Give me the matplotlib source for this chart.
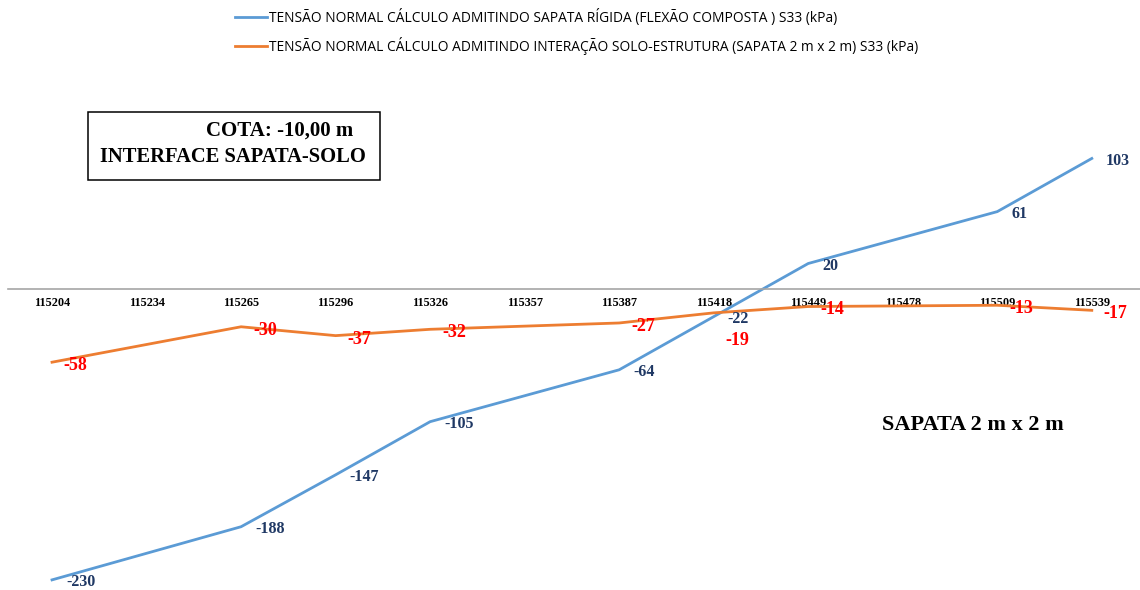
import numpy as np
import matplotlib.pyplot as plt
from matplotlib.patches import Rectangle

# ================================
# DATA
# ================================
categories = ['115204', '115234', '115265', '115296', '115326', '115357',
              '115387', '115418', '115449', '115478', '115509', '115539']
# positions (index into categories) that hold values
pos_idx = [0, 2, 3, 4, 6, 7, 8, 10, 11]
rigida = [-230, -188, -147, -105, -64, -22, 20, 61, 103]
interacao = [-58, -30, -37, -32, -27, -19, -14, -13, -17]

label_rigida = 'TENSÃO NORMAL CÁLCULO ADMITINDO SAPATA RÍGIDA (FLEXÃO COMPOSTA ) S33 (kPa)'
label_inter = 'TENSÃO NORMAL CÁLCULO ADMITINDO INTERAÇÃO SOLO-ESTRUTURA (SAPATA 2 m x 2 m) S33 (kPa)'

blue = '#5B9BD5'
orange = '#ED7D31'
navy = '#1F3864'

# ================================
# PLOT
# ================================
fig = plt.figure(figsize=(11.4, 5.9), dpi=100)
ax = fig.add_axes([0.007, 0.0, 0.993, 510 / 590])

x = np.arange(len(categories))
xp = x[pos_idx]

l1, = ax.plot(xp, rigida, color=blue, lw=2.0, label=label_rigida)
l2, = ax.plot(xp, interacao, color=orange, lw=2.0, label=label_inter)

ax.set_xlim(-0.466, 11.51)
ax.set_ylim(-238, 165)

# data labels
for xi, v in zip(xp, rigida):
    ax.annotate(str(v), (xi, v), xytext=(10, -1.5), textcoords='offset points',
                ha='left', va='center', color=navy, fontsize=11.5,
                fontweight='bold', family='Liberation Serif')
for xi, v in zip(xp, interacao):
    dy = -20 if v == -19 else -2.5
    ax.annotate(str(v), (xi, v), xytext=(8.5, dy), textcoords='offset points',
                ha='left', va='center', color='#FF0000', fontsize=13,
                fontweight='bold', family='Liberation Serif')

# axes styling
for s in ['top', 'right', 'left']:
    ax.spines[s].set_visible(False)
ax.spines['bottom'].set_position(('data', 0))
ax.spines['bottom'].set_color('#A6A6A6')
ax.spines['bottom'].set_linewidth(1.2)
ax.set_yticks([])
ax.set_xticks(x)
ax.set_xticklabels(categories, fontsize=8.8, fontweight='bold',
                   family='Liberation Serif')
ax.tick_params(axis='x', length=0, pad=6)
ax.patch.set_alpha(0)

# text boxes
fig.add_artist(Rectangle((88 / 1140, 1 - 180 / 590), 292 / 1140, 68 / 590,
                         transform=fig.transFigure, fc='white', ec='black',
                         lw=1.1, zorder=5))
fig.text(280 / 1140, 1 - 131 / 590, 'COTA: -10,00 m', fontsize=15,
         fontweight='bold', family='Liberation Serif', ha='center',
         va='center', zorder=6)
fig.text(233 / 1140, 1 - 157 / 590, 'INTERFACE SAPATA-SOLO', fontsize=14.8,
         fontweight='bold', family='Liberation Serif', ha='center',
         va='center', zorder=6)
fig.text(0.853, 1 - 425 / 590, 'SAPATA 2 m x 2 m', fontsize=16,
         fontweight='bold', family='Liberation Serif', ha='center',
         va='center')

fig.legend(handles=[l1, l2], loc='upper center', bbox_to_anchor=(0.506, 1.006),
           ncol=1, frameon=False, handlelength=2.3,
           handletextpad=0.2, labelspacing=0.78,
           prop={'family': 'Open Sans', 'size': 9.9})

plt.savefig('out.png', dpi=100)
